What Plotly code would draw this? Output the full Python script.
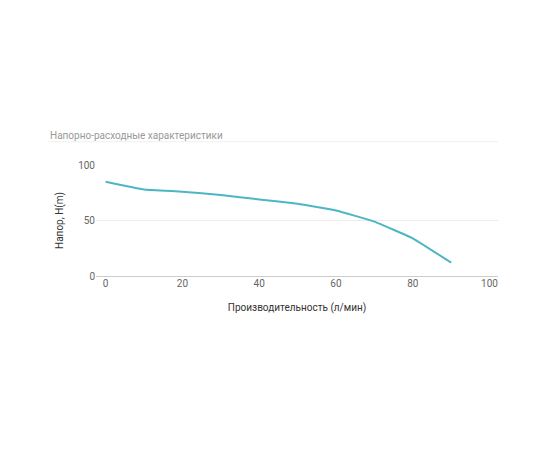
import plotly.graph_objects as go

flow = [0, 10, 20, 30, 40, 50, 60, 70, 80, 90]
head = [85, 78, 76, 73, 69, 65, 59, 49, 34, 12]
x_ticks = [0, 20, 40, 60, 80, 100]
y_ticks = [0, 50, 100]

fig = go.Figure(go.Scatter(x=flow, y=head, mode="lines",
                           line=dict(color="#4db6c4", width=2, shape="spline", smoothing=0.3),
                           hoverinfo="skip"))
fig.update_layout(
    width=550, height=450, paper_bgcolor="white", plot_bgcolor="white",
    margin=dict(l=88, r=60, t=157, b=182), showlegend=False,
    font=dict(family="Roboto", color="#666"),
    annotations=[dict(text="Напорно-расходные характеристики", xref="paper", yref="paper",
                      x=-0.12, y=1.265, xanchor="left", yanchor="middle", showarrow=False,
                      font=dict(size=10, color="#999"))],
    shapes=[dict(type="line", xref="paper", yref="paper", x0=-0.12, x1=1.0, y0=1.21, y1=1.21,
                 line=dict(color="#f0f0f0", width=1))],
)
fig.update_xaxes(range=[-2.5, 102.2], tickvals=x_ticks, showgrid=False, zeroline=False,
                 showline=False, ticks="", tickfont=dict(size=10, color="#666"),
                 title=dict(text="Производительность (л/мин)", font=dict(size=10, color="#333"), standoff=15))
fig.update_yaxes(range=[0, 100], tickvals=y_ticks, showgrid=True, gridcolor="#ececec",
                 zeroline=True, zerolinecolor="#cccccc", zerolinewidth=1, ticks="",
                 tickfont=dict(size=10, color="#666"),
                 title=dict(text="Напор, H(m)", font=dict(size=10, color="#333"), standoff=12))
fig.write_html("out.html")
